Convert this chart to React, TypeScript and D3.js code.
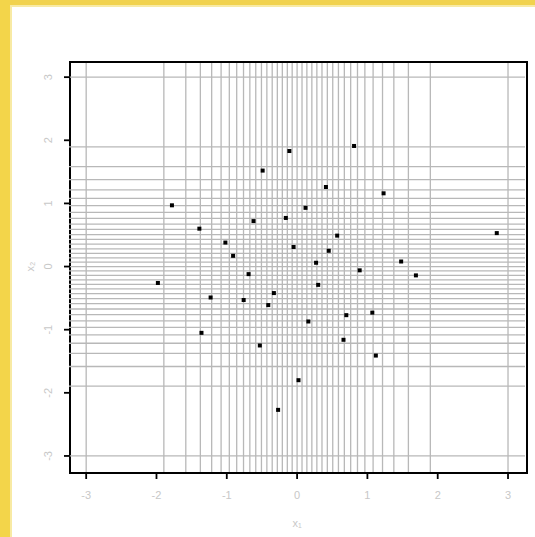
import React from "react";
import * as d3 from "d3";

// point coordinates
const xValues = [
  -0.11, 0.81, -0.49, 0.41, 1.23, -1.78, 0.12, -0.16, -0.62, -1.39, 0.57, 2.84,
  -1.02, -0.05, 0.45, -0.91, 1.48, 0.27, 0.89, -0.69, 1.69, -1.98, 0.30, -0.33,
  -1.23, -0.76, -0.41, 0.70, 1.07, 0.16, -1.36, 0.66, -0.53, 1.12, 0.02, -0.27,
];
const yValues = [
  1.83, 1.91, 1.52, 1.26, 1.16, 0.97, 0.93, 0.77, 0.72, 0.60, 0.49, 0.53,
  0.38, 0.31, 0.25, 0.17, 0.08, 0.06, -0.06, -0.12, -0.14, -0.26, -0.29, -0.42,
  -0.49, -0.53, -0.61, -0.77, -0.73, -0.87, -1.05, -1.16, -1.25, -1.41, -1.80, -2.27,
];

// grid positions (normal quantiles)
const gridValues = [
  -3, -1.895, -1.583, -1.376, -1.215, -1.081, -0.964, -0.859, -0.762, -0.672,
  -0.588, -0.507, -0.43, -0.354, -0.281, -0.21, -0.139, -0.07, 0,
  0.07, 0.139, 0.21, 0.281, 0.354, 0.43, 0.507, 0.588, 0.672, 0.762, 0.859,
  0.964, 1.081, 1.215, 1.376, 1.583, 1.895, 3,
];

const tickValues = [-3, -2, -1, 0, 1, 2, 3];
const xTitle = "x₁";
const yTitle = "x₂";

const W = 535;
const H = 537;
const left = 70;
const right = 527;
const top = 62;
const bottom = 473;

const App = () => {
  const x = d3.scaleLinear().domain([-3.23, 3.27]).range([left, right]);
  const y = d3.scaleLinear().domain([-3.27, 3.24]).range([bottom, top]);
  const points = xValues.map((v, i) => ({ x: v, y: yValues[i] }));
  const labelColor = "#c8c8c8";
  const font = "Liberation Sans, Arial, sans-serif";

  return (
    <div style={{ position: "fixed", left: 0, top: 0 }}>
      <svg width={W} height={H} style={{ display: "block" }}>
        <rect width={W} height={H} fill="#ffffff" />
        <rect x={0} y={0} width={W} height={5} fill="#f1d24e" />
        <rect x={0} y={5} width={W} height={2} fill="#f8eaa4" />
        <rect x={0} y={0} width={10} height={H} fill="#f3d54a" />
        <rect x={10} y={5} width={2} height={H} fill="#f8eaa4" />

        {/* frame */}
        <rect
          x={left}
          y={top}
          width={right - left}
          height={bottom - top}
          fill="none"
          stroke="#000"
          strokeWidth={2}
        />

        {/* vertical grid */}
        {gridValues.map((g, i) => (
          <line
            key={"v" + i}
            x1={x(g)}
            x2={x(g)}
            y1={top + 1}
            y2={bottom - 1}
            stroke="#b8b8b8"
            strokeWidth={1.3}
          />
        ))}
        {/* horizontal grid, crossing the left axis */}
        {gridValues.map((g, i) => (
          <line
            key={"h" + i}
            x1={left - 1}
            x2={right - 2}
            y1={y(g)}
            y2={y(g)}
            stroke="#b8b8b8"
            strokeWidth={1.3}
          />
        ))}

        {/* ticks */}
        {tickValues.map(t => (
          <g key={"xt" + t}>
            <line x1={x(t)} x2={x(t)} y1={bottom} y2={bottom + 6} stroke="#000" strokeWidth={1.8} />
            <text x={x(t)} y={bottom + 26} textAnchor="middle" fontFamily={font} fontSize={11} fill={labelColor}>
              {t}
            </text>
          </g>
        ))}
        {tickValues.map(t => (
          <g key={"yt" + t}>
            <line x1={left - 6} x2={left} y1={y(t)} y2={y(t)} stroke="#000" strokeWidth={1.8} />
            <text
              transform={`translate(${left - 18},${y(t)}) rotate(-90)`}
              textAnchor="middle"
              fontFamily={font}
              fontSize={11}
              fill={labelColor}
            >
              {t}
            </text>
          </g>
        ))}

        {/* axis titles */}
        <text x={x(0)} y={527} textAnchor="middle" fontFamily={font} fontSize={11} fill={labelColor}>
          {xTitle}
        </text>
        <text
          transform={`translate(34,${y(0)}) rotate(-90)`}
          textAnchor="middle"
          fontFamily={font}
          fontSize={11}
          fill={labelColor}
        >
          {yTitle}
        </text>

        {/* points */}
        {points.map((p, i) => (
          <rect key={"p" + i} x={x(p.x) - 2} y={y(p.y) - 2} width={4} height={4} fill="#000" />
        ))}
      </svg>
    </div>
  );
};

export default App;
